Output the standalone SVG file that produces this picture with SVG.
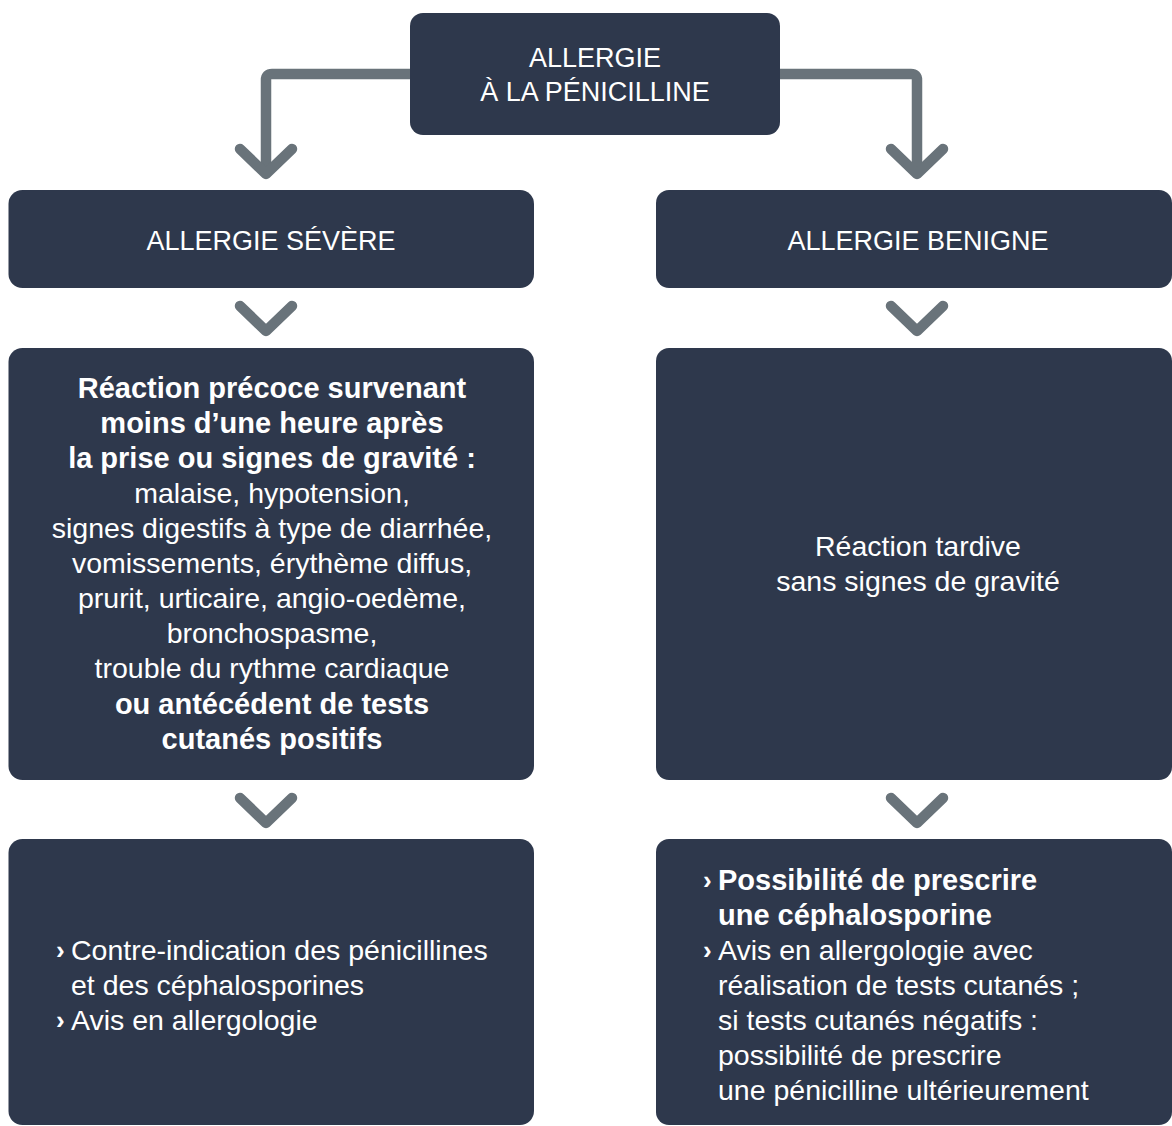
<svg xmlns="http://www.w3.org/2000/svg" width="1172" height="1126" viewBox="0 0 1172 1126">
<defs>
<style>
.box{fill:#2e384c;}
.conn{fill:none;stroke:#69737a;stroke-width:10.5;stroke-linecap:round;stroke-linejoin:round;}
.h{font-family:"Liberation Sans",Arial,Helvetica,sans-serif;font-size:27px;fill:#ffffff;text-anchor:middle;}
.t{font-family:"Liberation Sans",Arial,Helvetica,sans-serif;font-size:28.5px;fill:#ffffff;}
.c{text-anchor:middle;}
.b{font-weight:bold;font-size:29px;}
.bul{font-family:"Liberation Sans",Arial,Helvetica,sans-serif;font-size:26px;font-weight:bold;fill:#ffffff;}
</style>
</defs>
<rect width="1172" height="1126" fill="#ffffff"/>
<g id="connectors">
<path class="conn" d="M410,74 H272 Q266,74 266,80 V173"/>
<path class="conn" d="M240,149 L266,174 L292,149"/>
<path class="conn" d="M780,74 H911 Q917,74 917,80 V173"/>
<path class="conn" d="M891,149 L917,174 L943,149"/>
<path class="conn" d="M240,306 L266,331 L292,306"/>
<path class="conn" d="M891,306 L917,331 L943,306"/>
<path class="conn" d="M240,798 L266,823 L292,798"/>
<path class="conn" d="M891,798 L917,823 L943,798"/>
</g>
<g id="node-root">
<rect class="box" x="410" y="13" width="370" height="122" rx="13"/>
<text class="h" x="595" y="67">ALLERGIE</text>
<text class="h" x="595" y="101">À LA PÉNICILLINE</text>
</g>
<g id="node-severe">
<rect class="box" x="8.5" y="190" width="525.5" height="98" rx="14"/>
<text class="h" x="271" y="250">ALLERGIE SÉVÈRE</text>
</g>
<g id="node-benign">
<rect class="box" x="656" y="190" width="516" height="98" rx="13"/>
<text class="h" x="918" y="250">ALLERGIE BENIGNE</text>
</g>
<g id="node-severe-desc">
<rect class="box" x="8.5" y="348" width="525.5" height="432" rx="14"/>
<text class="t c b" x="272" y="398">Réaction précoce survenant</text>
<text class="t c b" x="272" y="433">moins d’une heure après</text>
<text class="t c b" x="272" y="468">la prise ou signes de gravité :</text>
<text class="t c" x="272" y="503">malaise, hypotension,</text>
<text class="t c" x="272" y="538">signes digestifs à type de diarrhée,</text>
<text class="t c" x="272" y="573">vomissements, érythème diffus,</text>
<text class="t c" x="272" y="608">prurit, urticaire, angio-oedème,</text>
<text class="t c" x="272" y="643">bronchospasme,</text>
<text class="t c" x="272" y="678">trouble du rythme cardiaque</text>
<text class="t c b" x="272" y="714">ou antécédent de tests</text>
<text class="t c b" x="272" y="749">cutanés positifs</text>
</g>
<g id="node-benign-desc">
<rect class="box" x="656" y="348" width="516" height="432" rx="13"/>
<text class="t c" x="918" y="556">Réaction tardive</text>
<text class="t c" x="918" y="591">sans signes de gravité</text>
</g>
<g id="node-severe-action">
<rect class="box" x="8.5" y="839" width="525.5" height="286" rx="14"/>
<text class="bul" x="56" y="959">›</text>
<text class="t" x="71" y="960">Contre-indication des pénicillines</text>
<text class="t" x="71" y="995">et des céphalosporines</text>
<text class="bul" x="56" y="1029">›</text>
<text class="t" x="71" y="1030">Avis en allergologie</text>
</g>
<g id="node-benign-action">
<rect class="box" x="656" y="839" width="516" height="286" rx="13"/>
<text class="bul" x="703" y="889">›</text>
<text class="t b" x="718" y="890">Possibilité de prescrire</text>
<text class="t b" x="718" y="925">une céphalosporine</text>
<text class="bul" x="703" y="959">›</text>
<text class="t" x="718" y="960">Avis en allergologie avec</text>
<text class="t" x="718" y="995">réalisation de tests cutanés ;</text>
<text class="t" x="718" y="1030">si tests cutanés négatifs :</text>
<text class="t" x="718" y="1065">possibilité de prescrire</text>
<text class="t" x="718" y="1100">une pénicilline ultérieurement</text>
</g>
</svg>
